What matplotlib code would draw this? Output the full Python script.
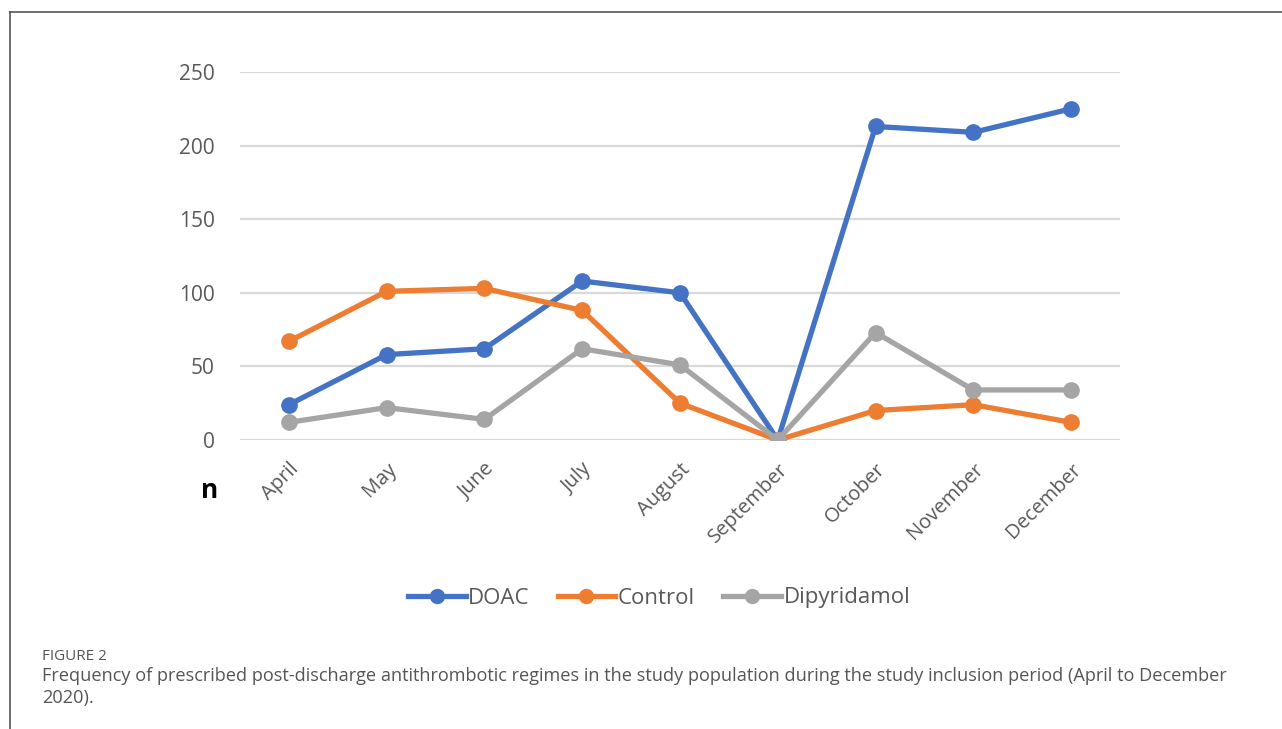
import matplotlib
matplotlib.use("Agg")
import matplotlib.pyplot as plt
from matplotlib.lines import Line2D

months = ["April", "May", "June", "July", "August", "September",
          "October", "November", "December"]
doac = [24, 58, 62, 108, 100, 0, 213, 209, 225]
control = [67, 101, 103, 88, 25, 0, 20, 24, 12]
dipyridamol = [12, 22, 14, 62, 51, 0, 73, 34, 34]
y_ticks = [0, 50, 100, 150, 200, 250]

series = [("DOAC", doac, "#4472C4"),
          ("Control", control, "#ED7D31"),
          ("Dipyridamol", dipyridamol, "#A5A5A5")]

plt.rcParams["font.family"] = ["Open Sans", "DejaVu Sans"]

fig = plt.figure(figsize=(12.82, 7.29), dpi=100)
ax = fig.add_axes([240 / 1282, 1 - 440 / 729, 880 / 1282, 368 / 729])

x = list(range(len(months)))
for name, vals, col in series:
    ax.plot(x, vals, color=col, lw=3.8, marker="o", ms=11, zorder=3,
            solid_capstyle="round", label=name)

ax.set_xlim(-0.5, len(months) - 0.5)
ax.set_ylim(0, 250)
ax.set_yticks(y_ticks)
ax.set_yticklabels([str(v) for v in y_ticks])
ax.grid(axis="y", color="#D9D9D9", lw=1.6, zorder=0)
ax.set_axisbelow(True)
for s in ax.spines.values():
    s.set_visible(False)
ax.tick_params(axis="both", length=0, labelsize=15, colors="#595959")
ax.tick_params(axis="y", pad=18)
ax.set_xticks(x)
ax.set_xticklabels(months, rotation=45, ha="right", va="top",
                   rotation_mode="anchor", fontsize=14.5, color="#595959")
ax.tick_params(axis="x", pad=14)

fig.text(210 / 1282, 1 - 490 / 729, "n", fontsize=19, fontweight="bold",
         color="black", ha="center", va="center")

handles = [Line2D([0], [0], color=c, lw=3.8, marker="o", ms=10) for _, _, c in series]
fig.legend(handles, [n for n, _, _ in series], loc="center",
           bbox_to_anchor=(659 / 1282, 1 - 598 / 729), ncol=3, frameon=False,
           fontsize=16, labelcolor="#595959", handlelength=2.6,
           handletextpad=0.12, columnspacing=1.25)

# frame around the figure panel
fig.add_artist(Line2D([10 / 1282, 10 / 1282], [0, 1 - 12 / 729],
                      transform=fig.transFigure, color="#555555", lw=1.2))
fig.add_artist(Line2D([10 / 1282, 1], [1 - 12 / 729, 1 - 12 / 729],
                      transform=fig.transFigure, color="#555555", lw=1.2))

fig.text(42 / 1282, 1 - 657 / 729, "FIGURE 2", fontsize=11,
         color="#555555", ha="left", va="center")
fig.text(42 / 1282, 1 - 676 / 729,
         "Frequency of prescribed post-discharge antithrombotic regimes in the "
         "study population during the study inclusion period (April to December",
         fontsize=13.1, color="#555555", ha="left", va="center")
fig.text(42 / 1282, 1 - 698 / 729, "2020).", fontsize=13.1,
         color="#555555", ha="left", va="center")

fig.savefig("out.png", dpi=100)
